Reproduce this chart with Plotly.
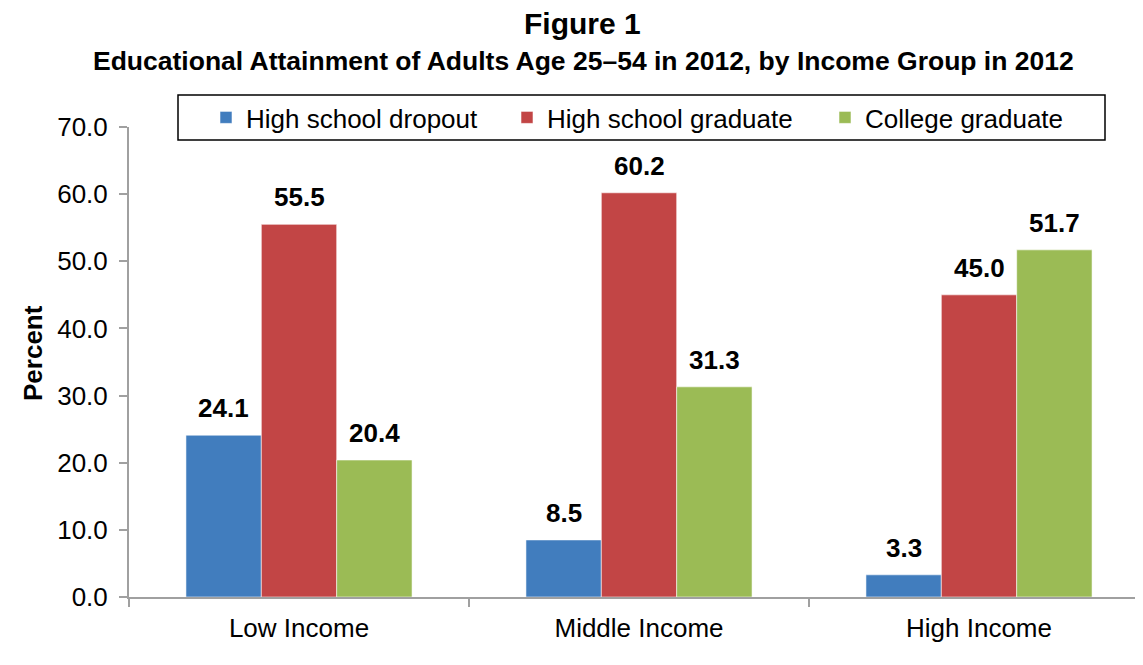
import plotly.graph_objects as go

categories = ["Low Income", "Middle Income", "High Income"]
series_names = ["High school dropout", "High school graduate", "College graduate"]
dropout = [24.1, 8.5, 3.3]
hs_grad = [55.5, 60.2, 45.0]
college = [20.4, 31.3, 51.7]
y_ticks = [0, 10, 20, 30, 40, 50, 60, 70]
y_tick_labels = ["0.0", "10.0", "20.0", "30.0", "40.0", "50.0", "60.0", "70.0"]

colors = ["#417DBE", "#C24545", "#9BBB55"]
legend_widths = [256, 273, 200]
FONT = "Liberation Sans, Arial, sans-serif"

# figure is offset by the page's 8px body margin
W, H = 1135, 657
ML, MR, MT, MB = 121, 0, 119, 68
PW = W - ML - MR
PH = H - MT - MB
BARGAP = 0.335
CAT_PX = 340.0
X_RANGE = [-0.5, -0.5 + PW / CAT_PX]
BAR_PX = CAT_PX * (1 - BARGAP) / 3


def px_x(x):
    return (x - ML) / PW


def px_y(y):
    return (H - MB - y) / PH


fig = go.Figure()
all_series = [dropout, hs_grad, college]
for name, vals, col, lw in zip(series_names, all_series, colors, legend_widths):
    fig.add_trace(go.Bar(
        x=categories, y=vals, name=name,
        marker=dict(color=col, line=dict(color="rgba(255,255,255,0.55)", width=1)),
        legendwidth=lw,
    ))

annotations = []
for si, vals in enumerate(all_series):
    for cat, v in zip(categories, vals):
        annotations.append(dict(
            x=cat, y=v, xref="x", yref="y", text=f"<b>{v:.1f}</b>",
            showarrow=False, xanchor="center", yanchor="middle",
            xshift=(si - 1) * BAR_PX, yshift=27,
            font=dict(family=FONT, size=26, color="black"),
        ))

annotations.append(dict(
    x=px_x(574), y=px_y(16), xref="paper", yref="paper", text="<b>Figure 1</b>",
    showarrow=False, xanchor="center", yanchor="middle",
    font=dict(family=FONT, size=30, color="black"),
))
annotations.append(dict(
    x=px_x(575), y=px_y(53), xref="paper", yref="paper",
    text="<b>Educational Attainment of Adults Age 25–54 in 2012, by Income Group in 2012</b>",
    showarrow=False, xanchor="center", yanchor="middle",
    font=dict(family=FONT, size=26.5, color="black"),
))
annotations.append(dict(
    x=px_x(25), y=px_y(345), xref="paper", yref="paper", text="<b>Percent</b>",
    showarrow=False, xanchor="center", yanchor="middle", textangle=-90,
    font=dict(family=FONT, size=26, color="black"),
))

fig.update_layout(
    width=W, height=H,
    margin=dict(l=ML, r=MR, t=MT, b=MB),
    paper_bgcolor="white", plot_bgcolor="white",
    barmode="group", bargap=BARGAP, bargroupgap=0,
    font=dict(family=FONT, size=26, color="black"),
    showlegend=True,
    legend=dict(
        orientation="h", x=px_x(198), xanchor="left", y=px_y(109.5), yanchor="middle",
        borderwidth=0, bgcolor="rgba(0,0,0,0)",
        font=dict(family=FONT, size=26, color="black"),
        traceorder="normal",
    ),
    shapes=[dict(
        type="rect", xref="paper", yref="paper",
        x0=px_x(170), x1=px_x(1097), y0=px_y(132), y1=px_y(87),
        line=dict(color="black", width=1.5), fillcolor="rgba(0,0,0,0)",
    )],
    annotations=annotations,
    xaxis=dict(
        range=X_RANGE,
        showline=True, linecolor="#A0A0A0", linewidth=2,
        ticks="outside", tickson="boundaries", ticklen=8, tickcolor="#A0A0A0", tickwidth=1.5,
        tickfont=dict(family=FONT, size=26, color="black"),
        ticklabelstandoff=7,
        showgrid=False, zeroline=False,
    ),
    yaxis=dict(
        range=[0, 70],
        tickvals=y_ticks, ticktext=y_tick_labels,
        showline=True, linecolor="#A0A0A0", linewidth=2,
        ticks="outside", ticklen=8, tickcolor="#A0A0A0", tickwidth=1.5,
        tickfont=dict(family=FONT, size=26, color="black"),
        ticklabelstandoff=6,
        showgrid=False, zeroline=False,
    ),
)

fig.write_html("out.html")
